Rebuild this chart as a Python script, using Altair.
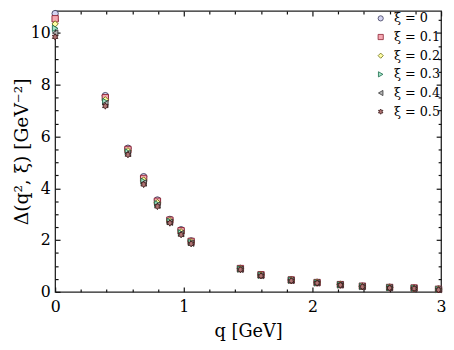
import altair as alt
import pandas as pd

# ---- data ----
q_vals = [0.0, 0.39, 0.566, 0.688, 0.795, 0.892, 0.979, 1.057, 1.44, 1.60,
          1.835, 2.036, 2.217, 2.388, 2.60, 2.79, 2.98]
xi_labels = ["ξ = 0", "ξ = 0.1", "ξ = 0.2", "ξ = 0.3", "ξ = 0.4", "ξ = 0.5"]
delta_xi0 = [10.75, 7.58, 5.55, 4.45, 3.55, 2.80, 2.40, 1.97, 0.91, 0.67, 0.47, 0.37, 0.29, 0.22, 0.18, 0.15, 0.11]
delta_xi1 = [10.55, 7.50, 5.50, 4.38, 3.50, 2.77, 2.36, 1.95, 0.90, 0.66, 0.46, 0.36, 0.28, 0.22, 0.17, 0.15, 0.10]
delta_xi2 = [10.35, 7.42, 5.45, 4.32, 3.45, 2.75, 2.32, 1.93, 0.89, 0.65, 0.45, 0.36, 0.28, 0.21, 0.17, 0.14, 0.10]
delta_xi3 = [10.18, 7.35, 5.40, 4.27, 3.40, 2.72, 2.28, 1.91, 0.88, 0.64, 0.45, 0.35, 0.27, 0.21, 0.16, 0.14, 0.09]
delta_xi4 = [10.00, 7.27, 5.35, 4.21, 3.35, 2.69, 2.25, 1.88, 0.87, 0.63, 0.44, 0.35, 0.27, 0.20, 0.16, 0.13, 0.09]
delta_xi5 = [9.85, 7.18, 5.30, 4.15, 3.30, 2.66, 2.21, 1.86, 0.86, 0.62, 0.43, 0.34, 0.26, 0.20, 0.15, 0.13, 0.08]
series = [delta_xi0, delta_xi1, delta_xi2, delta_xi3, delta_xi4, delta_xi5]

x_major = [0, 1, 2, 3]
x_minor = [0.2, 0.4, 0.6, 0.8, 1.2, 1.4, 1.6, 1.8, 2.2, 2.4, 2.6, 2.8]
y_major = [0, 2, 4, 6, 8, 10]
y_minor = [0.5, 1, 1.5, 2.5, 3, 3.5, 4.5, 5, 5.5, 6.5, 7, 7.5, 8.5, 9, 9.5, 10.5]

rows = []
for lab, vals in zip(xi_labels, series):
    for qv, dv in zip(q_vals, vals):
        rows.append({"q": qv, "delta": dv, "xi": lab})
df = pd.DataFrame(rows)

# ---- styling ----
W, H = 393, 286
FONT = "DejaVu Serif"
hexagram = ("M0,-1L0.289,-0.5L0.866,-0.5L0.577,0L0.866,0.5L0.289,0.5L0,1"
            "L-0.289,0.5L-0.866,0.5L-0.577,0L-0.866,-0.5L-0.289,-0.5Z")
shapes = ["circle", "square", "diamond", "triangle-right", "triangle-left", hexagram]
fills = ["#d4d4f2", "#f6a8b2", "#ffffa6", "#a4e2c8", "#b4b4b4", "#b07474"]
strokes = ["#3a3a5a", "#8a2030", "#6a6a10", "#1a6a4a", "#303030", "#3a1818"]

xscale = alt.Scale(domain=[0, 3], nice=False, zero=False)
yscale = alt.Scale(domain=[0, 10.85], nice=False, zero=False)

legend = alt.Legend(orient="none", legendX=325, legendY=1, title=None,
                    labelFont=FONT, labelFontSize=13, labelColor="black",
                    symbolSize=28, symbolStrokeWidth=0.8, rowPadding=5,
                    labelOffset=7, padding=0)

points = alt.Chart(df).mark_point(filled=True, size=42, strokeWidth=0.9, opacity=1).encode(
    x=alt.X("q:Q", scale=xscale,
            axis=alt.Axis(orient="bottom", values=x_major, format="d", ticks=False, tickSize=0,
                          domain=False, grid=False, labelPadding=7, labelFont=FONT,
                          labelFontSize=16, labelColor="black", labelFlush=False,
                          title="q [GeV]", titleFont=FONT, titleFontSize=18,
                          titleFontWeight="normal", titleColor="black",
                          titleY=45, titleBaseline="alphabetic")),
    y=alt.Y("delta:Q", scale=yscale,
            axis=alt.Axis(orient="left", values=y_major, format="d", ticks=False, tickSize=0,
                          domain=False, grid=False, labelPadding=5, labelFont=FONT,
                          labelFontSize=16, labelColor="black", labelFlush=False,
                          title="Δ(q², ξ)  [GeV⁻²]", titleFont=FONT, titleFontSize=19,
                          titleFontWeight="normal", titleColor="black",
                          titleX=-28, titleBaseline="alphabetic")),
    shape=alt.Shape("xi:N", scale=alt.Scale(domain=xi_labels, range=shapes), legend=legend),
    fill=alt.Fill("xi:N", scale=alt.Scale(domain=xi_labels, range=fills), legend=legend),
    stroke=alt.Stroke("xi:N", scale=alt.Scale(domain=xi_labels, range=strokes), legend=legend),
)


def tick_layer(xorient, yorient, xvals, yvals, size):
    return alt.Chart(df).mark_point(opacity=0).encode(
        x=alt.X("q:Q", scale=xscale,
                axis=alt.Axis(orient=xorient, offset=-H, values=xvals, labels=False,
                              domain=False, grid=False, ticks=True, tickSize=size,
                              tickColor="#111", tickWidth=1.2, title="")),
        y=alt.Y("delta:Q", scale=yscale,
                axis=alt.Axis(orient=yorient, offset=-W, values=yvals, labels=False,
                              domain=False, grid=False, ticks=True, tickSize=size,
                              tickColor="#111", tickWidth=1.2, title="")),
    )


chart = alt.layer(
    tick_layer("top", "right", x_major, y_major, 5),
    tick_layer("bottom", "left", x_major, y_major, 5),
    tick_layer("top", "right", x_minor, y_minor, 3),
    tick_layer("bottom", "left", x_minor, y_minor, 3),
    points,
).resolve_axis(x="independent", y="independent").properties(
    width=W, height=H,
    autosize=alt.AutoSizeParams(type="none"),
    padding={"left": 48, "top": 0, "right": 5, "bottom": 48},
).configure_view(stroke="#222", strokeWidth=1.3)

chart.save("out.html", embed_options={"renderer": "svg", "actions": False})
